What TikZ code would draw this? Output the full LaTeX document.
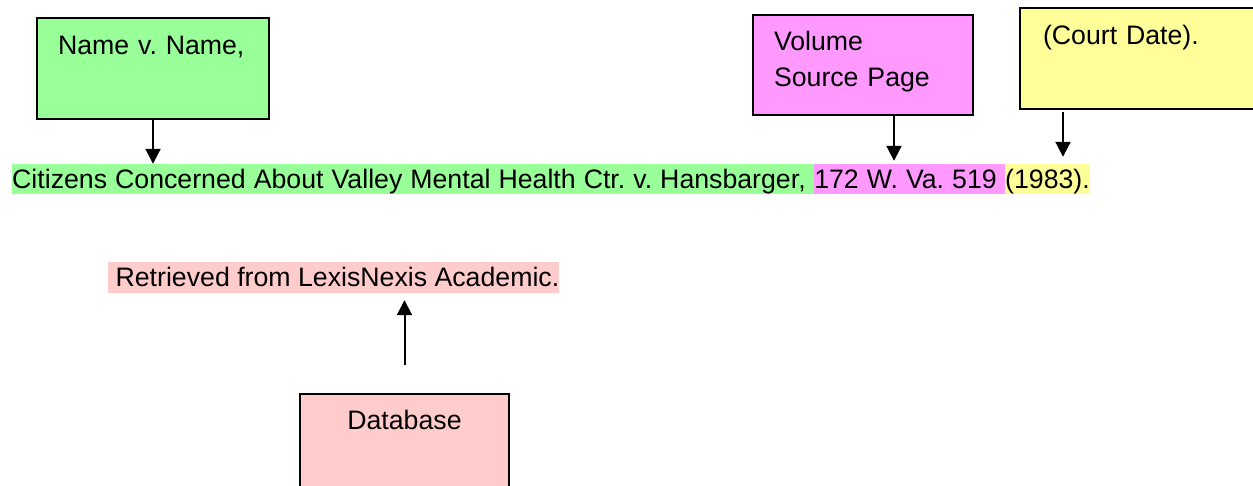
\documentclass[tikz,border=0pt]{standalone}
\usepackage{fontspec}
\setmainfont{Liberation Sans}
\usetikzlibrary{arrows.meta}
\definecolor{gGreen}{HTML}{99FF99}
\definecolor{gMag}{HTML}{FF99FF}
\definecolor{gYel}{HTML}{FFFF99}
\definecolor{gPink}{HTML}{FFCCCC}
\frenchspacing
\newcommand{\citefont}{\fontsize{26.7}{36}\selectfont\spaceskip=8.05pt\relax}
\begin{document}
\begin{tikzpicture}[x=1pt,y=-1pt, font=\fontsize{26.7}{36}\selectfont,
  box/.style={draw=black, line width=2pt, inner ysep=0pt, align=left, anchor=north west},
  band/.style={inner sep=0pt, text height=24pt, text depth=6pt, anchor=base west},
  cite/.style={band, font=\citefont},
  arr/.style={line width=2pt, -{Triangle[width=15pt,length=15pt]}}]
\useasboundingbox (0,0) rectangle (1253,485);
% boxes
\node[box, fill=gGreen, inner xsep=21pt, text width=190pt, text height=36pt, text depth=65pt] (gbox) at (36,17) {\mbox{Name v. Name,}};
\node[box, fill=gMag, inner xsep=21pt, text width=178pt, text height=35pt, text depth=65pt] (mbox) at (752,14) {Volume\\\mbox{Source Page}};
\node[box, fill=gYel, inner xsep=23pt, text width=215pt, text height=36pt, text depth=65pt] (ybox) at (1019,7) {\mbox{(Court Date).}};
\node[box, fill=gPink, align=center, inner xsep=10pt, text width=189pt, text height=35pt, text depth=92pt] (dbox) at (299,393) {Database};
% citation
\node[cite, fill=gGreen] (cg) at (12,188) {Citizens Concerned About Valley Mental Health Ctr. v. Hansbarger,\ \mbox{}};
\node[cite, fill=gMag] (cm) at (cg.base east) {172 W. Va. 519\ \mbox{}};
\node[cite, fill=gYel] (cy) at (cm.base east) {(1983).};
\node[band, fill=gPink, text depth=7pt] (ret) at (108,286) {\mbox{}\ Retrieved from LexisNexis Academic.};
% arrows
\coordinate (ma) at (894,116);
\coordinate (ya) at (1063,112);
\draw[arr] (gbox.south) -- (gbox.south |- cg.north);
\draw[arr, shorten >=3pt] (ma) -- (ma |- cm.north);
\draw[arr, shorten >=7pt] (ya) -- (ya |- cy.north);
\draw[arr, shorten <=28pt, shorten >=7pt] (dbox.north) -- (dbox.north |- ret.south);
\end{tikzpicture}
\end{document}
